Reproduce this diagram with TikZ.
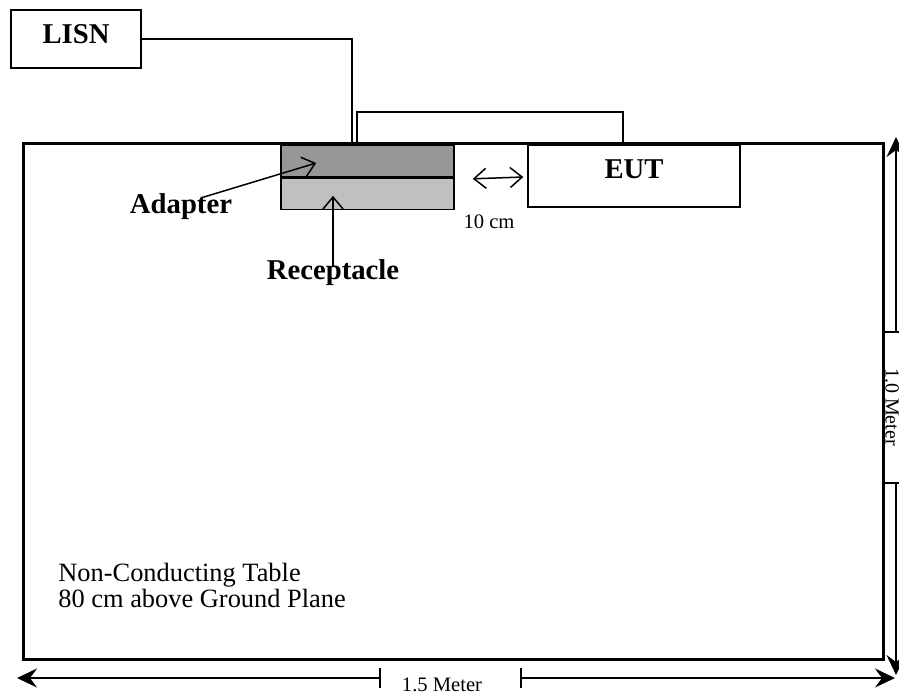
\documentclass[tikz,border=0pt]{standalone}
\usepackage{fontspec}
\setmainfont{Liberation Serif}
\usetikzlibrary{arrows.meta, positioning}
\definecolor{adaptergray}{RGB}{151,151,151}
\definecolor{receptgray}{RGB}{192,192,192}
\tikzstyle{box}=[draw,fill=white,rectangle,inner sep=0pt,line width=0.75pt]
\tikzstyle{label}=[font=\fontsize{14.35}{16}\selectfont\bfseries,inner sep=0pt]
\tikzstyle{note}=[font=\fontsize{10.3}{12}\selectfont,inner sep=0pt]
\tikzstyle{wire}=[line width=1.25pt]
\tikzstyle{ptr}=[line width=0.75pt,-{Straight Barb[length=6pt,width=10pt]}]
\tikzstyle{dim}=[line width=0.75pt,-{Stealth[length=10pt,width=9.5pt,inset=3.5pt]}]

\begin{document}
\begin{tikzpicture}[x=0.5pt,y=-0.5pt]
    \useasboundingbox (0,0) rectangle (899,697);
    \node[box, line width=1.5pt, minimum width=430pt, minimum height=258pt] (table) at (453,401) {};
    \node[box, label, minimum width=65pt, minimum height=29pt, text depth=5pt] (lisn) at (76,39) {LISN};
    \node[box, fill=adaptergray, line width=0.8pt, minimum width=86.5pt, minimum height=16pt] (adapter) at (367.5,161) {};
    \node[box, fill=receptgray, line width=0.8pt, minimum width=86.5pt, minimum height=15.5pt, below=0pt of adapter] (receptacle) {};
    \node[box, label, line width=0.7pt, minimum width=106pt, minimum height=31pt, text depth=7pt] (eut) at (634,176) {EUT};
    \node[label] (adlabel) at (181,207) {Adapter};
    \node[label] (reclabel) at (333,273) {Receptacle};
    \node[note] (gap) at (489,222) {10 cm};
    \node[font=\fontsize{13.2}{12}\selectfont, align=left, inner sep=0pt, anchor=north west] (tabletext) at (58,563)
        {Non-Conducting Table\\80 cm above Ground Plane};
    % cords
    \coordinate (plug) at (352,143);
    \coordinate (loopa) at (357,143);
    \coordinate (loopb) at (623,143);
    \draw[wire] (lisn.east) -| (plug);
    \draw[line width=0.7pt] (loopa) -- ++(0,-31) -| (loopb);
    % pointers
    \draw[ptr] ([xshift=10.5pt,yshift=-2pt]adlabel.north) -- ([xshift=18pt,yshift=-1pt]adapter.west);
    \draw[ptr] ([yshift=-3pt]reclabel.north) -- ([yshift=-9pt]reclabel.north |- receptacle.north);
    \draw[line width=0.75pt,{Straight Barb[length=6pt,width=10pt]}-{Straight Barb[length=6pt,width=10pt]}]
        ([xshift=9pt,yshift=-0.5pt]adapter.south east) -- ([xshift=-2pt,yshift=-0.5pt]eut.west);
    % 1.5 Meter
    \coordinate (hl) at (17,678);
    \coordinate (hr) at (895,678);
    \coordinate (tickl) at (380,678);
    \coordinate (tickr) at (521,678);
    \node[note] (hlabel) at (442,685) {1.5 Meter};
    \draw[dim] (tickl) -- (hl);
    \draw[dim] (tickr) -- (hr);
    \draw[line width=0.75pt] ([yshift=5pt]tickl) -- ([yshift=-5pt]tickl);
    \draw[line width=0.75pt] ([yshift=5pt]tickr) -- ([yshift=-5pt]tickr);
    % 1.0 Meter
    \coordinate (vt) at (896,137);
    \coordinate (vb) at (896,675);
    \coordinate (ticku) at (896,332);
    \coordinate (tickd) at (896,483);
    \node[note, font=\fontsize{10}{12}\selectfont, rotate=-90, anchor=base] (vlabel) at (885.5,407) {1.0 Meter};
    \draw[dim] (ticku) -- (vt);
    \draw[dim] (tickd) -- (vb);
    \draw[line width=0.75pt] (883,332) -- (899,332);
    \draw[line width=0.75pt] (883,483) -- (899,483);
\end{tikzpicture}
\end{document}
